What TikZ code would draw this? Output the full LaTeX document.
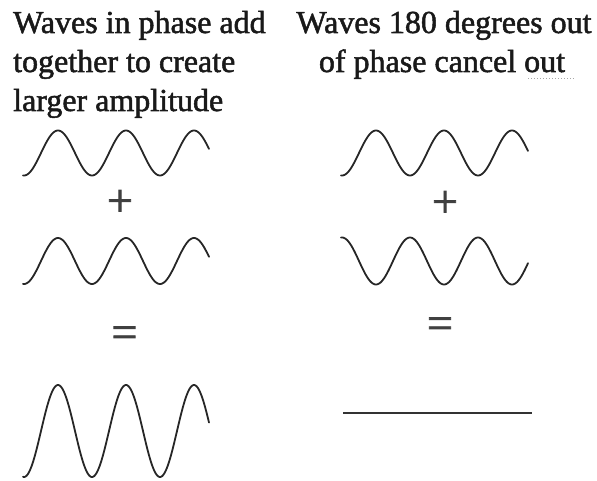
\documentclass[tikz,border=0pt]{standalone}
\usepackage{fontspec}
\setmainfont{Liberation Serif}
\newfontfamily\titlefont[FakeBold=1.6]{Liberation Serif}
\newfontfamily\signfont[FakeBold=1.5]{Liberation Serif}
\begin{document}
\begin{tikzpicture}[x=1bp,y=-1bp,
  title/.style={inner sep=0pt,text=black!90,font=\titlefont\fontsize{32bp}{39bp}\selectfont},
  sign/.style={inner sep=0pt,text=black!75,font=\signfont\fontsize{46bp}{46bp}\selectfont},
  wave/.style={draw=black!85,line width=1.8bp,line cap=round},
  flat/.style={draw=black!80,line width=2.8bp}]
\useasboundingbox (0,0) rectangle (597,481);
% left titles
\node[title,anchor=base west] (l1) at (13,33) {Waves in phase add};
\node[title,anchor=base west] (l2) at (13,72) {together to create};
\node[title,anchor=base west] (l3) at (13,111) {larger amplitude};
% right titles
\node[title,anchor=base] (r1) at (444,33) {Waves 180 degrees out};
\node[title,anchor=base] (r2) at (442,72) {of phase cancel out};
\draw[black!35,dotted,line width=1bp] (528,79) -- (575,79);
% left column
\draw[wave] plot[domain=23:209,samples=200] (\x,{153+22.5*cos(5.2941*(\x-24))});
\node[sign] (lp) at (120,203) {+};
\draw[wave] plot[domain=23:209,samples=200] (\x,{261+23*cos(5.2941*(\x-24))});
\node[sign] (le) at (124.5,337) {=};
\draw[wave] plot[domain=23:209,samples=200] (\x,{431+46*cos(5.2941*(\x-24))});
% right column
\draw[wave] plot[domain=341:528,samples=200] (\x,{153+22.5*cos(5.2941*(\x-342))});
\node[sign] (rp) at (445,204) {+};
\draw[wave] plot[domain=341:528,samples=200] (\x,{261-23.5*cos(5.2941*(\x-342))});
\node[sign] (re) at (440,328) {=};
\coordinate (fa) at (343,413);
\coordinate (fb) at (532,413);
\draw[flat] (fa) -- (fb);
\end{tikzpicture}
\end{document}
